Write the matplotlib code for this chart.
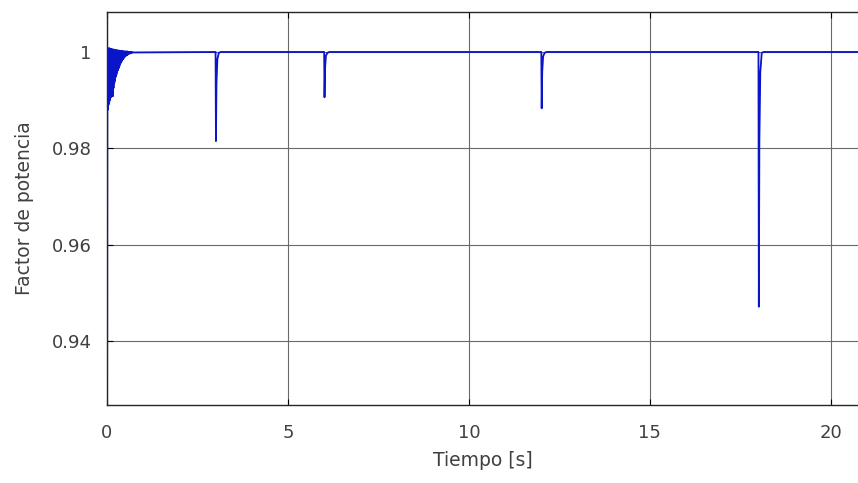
import matplotlib
matplotlib.use('Agg')
import numpy as np
import matplotlib.pyplot as plt

plt.rcParams['font.family'] = ['DejaVu Sans']

# start-up transient, one sample every 10 ms from t = 0 to 0.70 s
t_start = np.round(np.arange(0, 0.705, 0.01), 2)
pf_start = [0.900, 1.000, 0.988, 1.0008, 0.989, 1.0006, 0.9895, 1.0008, 0.990, 1.0006,
            0.9905, 1.0006, 0.991, 1.0006, 0.9915, 1.0005, 0.9908, 1.0005, 0.9925, 1.0005,
            0.9935, 1.0004, 0.994, 1.0004, 0.9948, 1.0004, 0.9953, 1.0003, 0.9958, 1.0003,
            0.9962, 1.0003, 0.9966, 1.0003, 0.997, 1.0002, 0.9974, 1.0002, 0.9977, 1.0002,
            0.998, 1.0002, 0.9983, 1.0002, 0.9985, 1.0001, 0.9987, 1.0001, 0.9989, 1.0001,
            0.9991, 1.0001, 0.9992, 1.0001, 0.9993, 1.0001, 0.9994, 1.0001, 0.9995, 1.0,
            0.9996, 1.0, 0.9997, 1.0, 0.9997, 1.0, 0.9998, 1.0, 0.9998, 1.0, 0.9999]

# load-step events: time of the dip and minimum power factor
t_events = [3.0, 6.0, 12.0, 18.0]
pf_min = [0.9815, 0.9906, 0.9883, 0.9471]
t_end = 21.0

# build the trace from the listed values
t = list(t_start)
pf = list(pf_start)
for te, pm in zip(t_events, pf_min):
    t += [te - 0.01, te, te + 0.01, te + 0.025, te + 0.05, te + 0.09, te + 0.14]
    pf += [1.0, 1.0, pm, 1 - (1 - pm) * 0.35, 1 - (1 - pm) * 0.08, 0.9998, 1.0]
t.append(t_end)
pf.append(1.0)

fig = plt.figure(figsize=(8.58, 4.83), dpi=100)
ax = fig.add_axes([107 / 858, 78 / 483, 751 / 858, 393 / 483])

ax.plot(t, pf, color='#0a14c8', linewidth=1.3, zorder=3)

ax.set_xlim(0, 20.75)
ax.set_ylim(0.9267, 1.0083)
ax.set_xticks([0, 5, 10, 15, 20])
ax.set_yticks([0.94, 0.96, 0.98, 1.0])
ax.set_yticklabels(['0.94', '0.96', '0.98', '1'])

ax.grid(True, color='#6a6a6a', linewidth=0.8)
ax.set_axisbelow(True)
ax.tick_params(direction='in', top=True, right=False, length=4, width=0.8,
               labelsize=13, labelcolor='#404040')
ax.tick_params(axis='x', pad=14)
ax.tick_params(axis='y', pad=11)
for side in ['left', 'bottom', 'top']:
    ax.spines[side].set_color('#262626')
    ax.spines[side].set_linewidth(1.0)
ax.spines['right'].set_visible(False)

ax.set_xlabel('Tiempo [s]', fontsize=13.5, color='#404040', labelpad=6)
ax.set_ylabel('Factor de potencia', fontsize=13.5, color='#404040', labelpad=13)

fig.savefig('out.png', dpi=100)
